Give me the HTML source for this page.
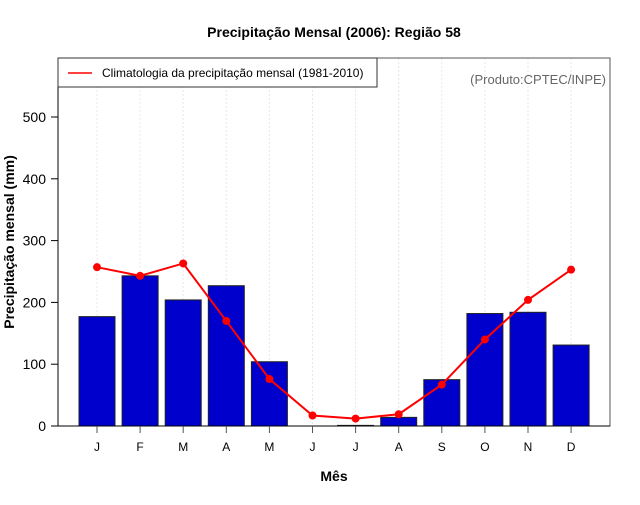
<!DOCTYPE html>
<html><head><meta charset="utf-8"><style>
body{margin:0;background:#fff;}
svg text{font-family:"Liberation Sans",sans-serif;}
</style></head><body>
<svg id="c" width="640" height="500" xmlns="http://www.w3.org/2000/svg">
<rect width="640" height="500" fill="#fff"/>
<text x="334" y="37" text-anchor="middle" font-size="14" font-weight="bold">Precipitação Mensal (2006): Região 58</text>
<g id="grid"></g>
<g id="bars"></g>
<g id="line"></g>
<rect x="58" y="58" width="552" height="368" fill="none" stroke="#555" stroke-width="1"/>
<line x1="58" y1="426" x2="610" y2="426" stroke="#000" stroke-width="1"/>
<line x1="58" y1="58" x2="58" y2="426" stroke="#000" stroke-width="1"/>
<g id="yaxis"></g>
<g id="xaxis"></g>
<g>
<rect x="58" y="58" width="319" height="29" fill="#fff" stroke="#333" stroke-width="1"/>
<line x1="68" y1="73" x2="92" y2="73" stroke="#f00" stroke-width="1.5"/>
<text x="102" y="77" font-size="12">Climatologia da precipitação mensal (1981-2010)</text>
</g>
<text x="606" y="84" text-anchor="end" font-size="13" fill="#666">(Produto:CPTEC/INPE)</text>
<text x="14" y="242" transform="rotate(-90 14 242)" text-anchor="middle" font-size="14" font-weight="bold">Precipitação mensal (mm)</text>
<text x="334" y="481" text-anchor="middle" font-size="14" font-weight="bold">Mês</text>
</svg>
<script>
const months=["J","F","M","A","M","J","J","A","S","O","N","D"];
const precip=[177,243,204,227,104,0,1,14,75,182,184,131];
const clim=[257,243,263,170,76,17,12,19,67,140,204,253];
const yTicks=[0,100,200,300,400,500];
const NS="http://www.w3.org/2000/svg";
const xs=i=>97+i*43.1;
const ys=v=>426-v*0.618;
function mk(t,a,p){const e=document.createElementNS(NS,t);for(const k in a)e.setAttribute(k,a[k]);p.appendChild(e);return e;}
const grid=document.getElementById('grid'),bars=document.getElementById('bars'),line=document.getElementById('line'),ya=document.getElementById('yaxis'),xa=document.getElementById('xaxis');
months.forEach((m,i)=>{
 const g=mk('line',{x1:xs(i),x2:xs(i),y1:58,y2:426,stroke:'#e8e8e8','stroke-dasharray':'2,2'},grid);
 
 
 const b=mk('rect',{x:xs(i)-18,y:ys(precip[i]),width:36,height:precip[i]*0.618,fill:'#0000cc',stroke:precip[i]>0?'#222':'none','stroke-width':1},bars);
 
 
 const t=mk('line',{x1:xs(i),x2:xs(i),y1:426,y2:433,stroke:'#555'},xa);
 
 
 const l=mk('text',{x:xs(i),y:451,'text-anchor':'middle','font-size':12},xa);l.textContent=m;
 
 
});
const p=mk('polyline',{points:clim.map((v,i)=>xs(i)+','+ys(v)).join(' '),fill:'none',stroke:'#f00','stroke-width':2},line);


clim.forEach((v,i)=>{const c=mk('circle',{cx:xs(i),cy:ys(v),r:4,fill:'#f00'},line);
 
 });
yTicks.forEach(v=>{
 const t=mk('line',{x1:51,x2:58,y1:ys(v),y2:ys(v),stroke:'#000'},ya);
 
 
 const l=mk('text',{x:46,y:ys(v)+5,'text-anchor':'end','font-size':14},ya);l.textContent=v;
 
 
});
</script>
</body></html>
